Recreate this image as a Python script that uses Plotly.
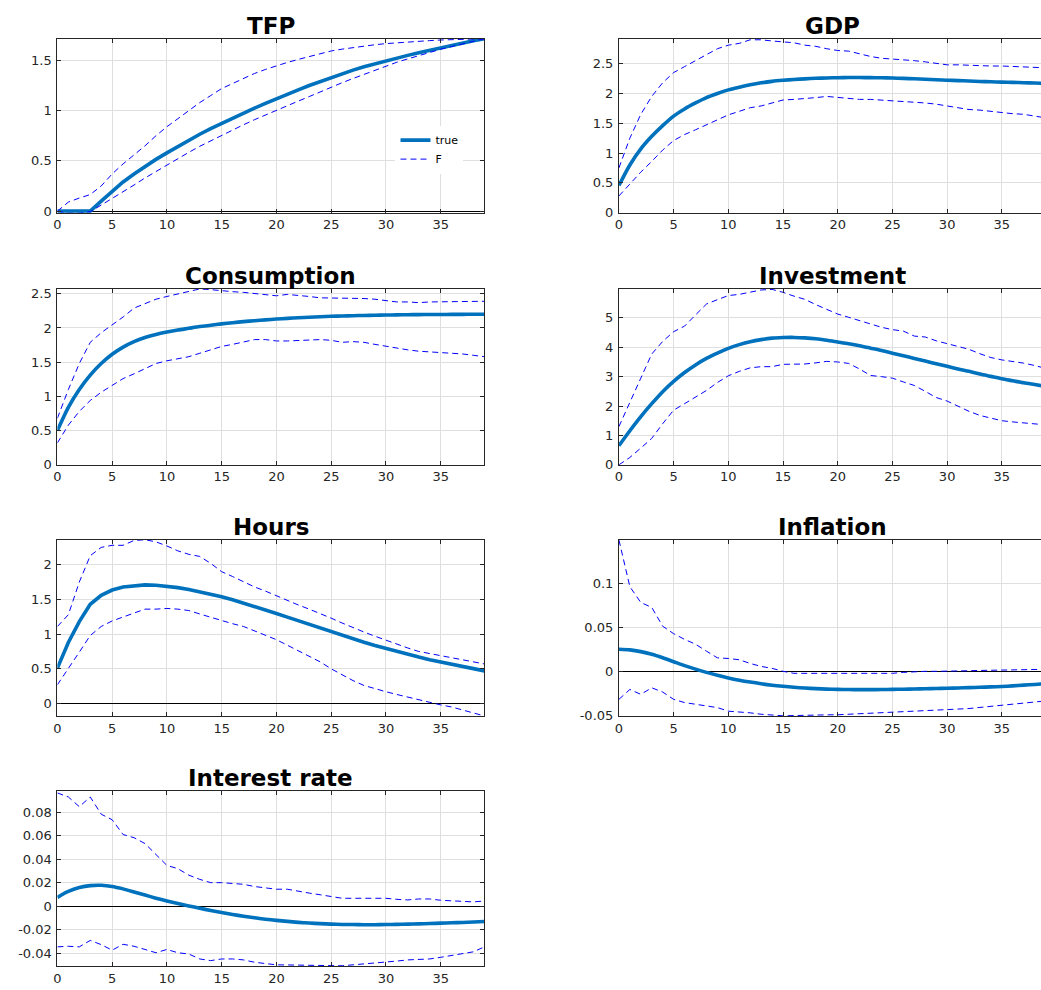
import plotly.graph_objects as go

# ---------------- data ----------------
periods = list(range(40))
x_tick_vals = [0, 5, 10, 15, 20, 25, 30, 35]
x_tick_text = ["0", "5", "10", "15", "20", "25", "30", "35"]

tfp_true = [0, 0, 0, 0, 0.10, 0.20, 0.29, 0.37, 0.445, 0.515, 0.58, 0.645, 0.705, 0.765, 0.82,
            0.873, 0.925, 0.975, 1.025, 1.072, 1.119, 1.163, 1.207, 1.25, 1.29, 1.332, 1.368,
            1.403, 1.437, 1.467, 1.496, 1.523, 1.55, 1.577, 1.602, 1.627, 1.65, 1.673, 1.695, 1.716]
tfp_hi = [0, 0.09, 0.13, 0.165, 0.25, 0.37, 0.47, 0.56, 0.65, 0.75, 0.84, 0.92, 1.0, 1.08, 1.15,
          1.22, 1.27, 1.32, 1.37, 1.41, 1.447, 1.48, 1.51, 1.54, 1.57, 1.594, 1.612, 1.628, 1.643,
          1.656, 1.667, 1.676, 1.684, 1.691, 1.697, 1.703, 1.707, 1.711, 1.714, 1.716]
tfp_lo = [0, -0.02, -0.02, -0.005, 0.06, 0.125, 0.19, 0.26, 0.33, 0.395, 0.46, 0.525, 0.585, 0.645,
          0.7, 0.758, 0.81, 0.86, 0.91, 0.958, 1.004, 1.05, 1.095, 1.14, 1.188, 1.234, 1.278, 1.32,
          1.362, 1.405, 1.447, 1.482, 1.515, 1.548, 1.58, 1.611, 1.638, 1.665, 1.69, 1.716]

gdp_true = [0.455, 0.80, 1.07, 1.28, 1.46, 1.62, 1.74, 1.84, 1.93, 2.0, 2.06, 2.105, 2.145, 2.178,
            2.203, 2.22, 2.234, 2.245, 2.254, 2.26, 2.264, 2.267, 2.267, 2.265, 2.263, 2.258, 2.252,
            2.246, 2.238, 2.23, 2.222, 2.215, 2.208, 2.2, 2.195, 2.19, 2.185, 2.18, 2.175, 2.17]
gdp_hi = [0.75, 1.25, 1.65, 1.95, 2.18, 2.35, 2.45, 2.55, 2.65, 2.75, 2.81, 2.84, 2.9, 2.9, 2.88,
          2.87, 2.85, 2.81, 2.79, 2.75, 2.72, 2.71, 2.66, 2.62, 2.59, 2.58, 2.56, 2.55, 2.53, 2.5,
          2.48, 2.48, 2.47, 2.47, 2.46, 2.46, 2.45, 2.44, 2.43, 2.43]
gdp_lo = [0.28, 0.48, 0.68, 0.86, 1.05, 1.21, 1.31, 1.39, 1.47, 1.56, 1.64, 1.7, 1.76, 1.79, 1.84,
          1.89, 1.9, 1.91, 1.93, 1.95, 1.93, 1.91, 1.9, 1.9, 1.89, 1.88, 1.87, 1.86, 1.84, 1.82,
          1.79, 1.75, 1.73, 1.72, 1.7, 1.67, 1.66, 1.65, 1.62, 1.59]

cons_true = [0.5, 0.84, 1.1, 1.31, 1.48, 1.615, 1.72, 1.80, 1.86, 1.905, 1.94, 1.97, 1.995, 2.02,
             2.04, 2.06, 2.077, 2.092, 2.106, 2.118, 2.13, 2.14, 2.149, 2.157, 2.164, 2.17, 2.175,
             2.179, 2.183, 2.186, 2.189, 2.191, 2.193, 2.195, 2.196, 2.197, 2.198, 2.199, 2.2, 2.2]
cons_hi = [0.68, 1.1, 1.48, 1.79, 1.93, 2.04, 2.16, 2.29, 2.36, 2.42, 2.46, 2.5, 2.54, 2.57, 2.56,
           2.54, 2.53, 2.52, 2.5, 2.48, 2.47, 2.49, 2.48, 2.46, 2.44, 2.44, 2.44, 2.44, 2.43, 2.42,
           2.4, 2.38, 2.38, 2.37, 2.38, 2.38, 2.38, 2.38, 2.39, 2.39]
cons_lo = [0.32, 0.58, 0.78, 0.94, 1.06, 1.16, 1.26, 1.33, 1.4, 1.48, 1.52, 1.55, 1.58, 1.63, 1.68,
           1.73, 1.76, 1.79, 1.83, 1.83, 1.81, 1.81, 1.82, 1.82, 1.83, 1.82, 1.79, 1.8, 1.79, 1.76,
           1.73, 1.71, 1.68, 1.66, 1.65, 1.64, 1.64, 1.62, 1.6, 1.58]

inv_true = [0.65, 1.16, 1.64, 2.08, 2.49, 2.84, 3.14, 3.40, 3.62, 3.80, 3.96, 4.09, 4.19, 4.26,
            4.31, 4.33, 4.335, 4.32, 4.29, 4.24, 4.18, 4.12, 4.05, 3.97, 3.89, 3.8, 3.71, 3.62, 3.53,
            3.44, 3.35, 3.26, 3.18, 3.09, 3.01, 2.93, 2.86, 2.79, 2.73, 2.67]
inv_hi = [1.3, 2.1, 2.95, 3.77, 4.2, 4.53, 4.72, 5.1, 5.47, 5.62, 5.76, 5.8, 5.88, 5.95, 5.97, 5.87,
          5.74, 5.63, 5.45, 5.3, 5.13, 5.02, 4.9, 4.8, 4.68, 4.6, 4.55, 4.38, 4.35, 4.22, 4.13, 4.03,
          3.93, 3.78, 3.65, 3.57, 3.52, 3.46, 3.38, 3.28]
inv_lo = [0.0, 0.25, 0.57, 0.9, 1.4, 1.86, 2.08, 2.3, 2.53, 2.8, 3.03, 3.18, 3.3, 3.34, 3.34, 3.42,
          3.42, 3.43, 3.47, 3.52, 3.5, 3.45, 3.26, 3.04, 3.0, 2.95, 2.82, 2.7, 2.5, 2.29, 2.17, 2.0,
          1.82, 1.68, 1.58, 1.5, 1.46, 1.43, 1.4, 1.36]

hours_true = [0.51, 0.88, 1.18, 1.43, 1.56, 1.635, 1.68, 1.70, 1.71, 1.705, 1.69, 1.67, 1.643,
              1.612, 1.578, 1.54, 1.495, 1.448, 1.4, 1.35, 1.298, 1.245, 1.192, 1.139, 1.086,
              1.034, 0.983, 0.933, 0.884, 0.837, 0.792, 0.749, 0.708, 0.669, 0.632, 0.597, 0.563,
              0.531, 0.5, 0.47]
hours_hi = [1.11, 1.28, 1.75, 2.13, 2.25, 2.28, 2.28, 2.35, 2.36, 2.33, 2.27, 2.2, 2.15, 2.12, 2.02,
            1.9, 1.83, 1.75, 1.68, 1.62, 1.55, 1.48, 1.42, 1.36, 1.3, 1.23, 1.16, 1.09, 1.03, 0.97,
            0.91, 0.85, 0.8, 0.75, 0.72, 0.7, 0.67, 0.64, 0.6, 0.57]
hours_lo = [0.27, 0.5, 0.74, 0.98, 1.11, 1.19, 1.25, 1.3, 1.36, 1.36, 1.37, 1.36, 1.34, 1.29, 1.24,
            1.19, 1.15, 1.11, 1.05, 0.99, 0.92, 0.84, 0.76, 0.68, 0.6, 0.5, 0.41, 0.33, 0.26, 0.21,
            0.17, 0.13, 0.09, 0.06, 0.02, -0.02, -0.05, -0.09, -0.13, -0.18]

infl_true = [0.0252, 0.0245, 0.0225, 0.0195, 0.0155, 0.011, 0.0065, 0.0025, -0.0012, -0.0045,
             -0.0075, -0.0101, -0.0123, -0.0142, -0.0158, -0.0171, -0.0182, -0.0191, -0.0198,
             -0.0203, -0.0206, -0.0208, -0.0209, -0.0209, -0.0208, -0.0206, -0.0204, -0.0202,
             -0.0199, -0.0196, -0.0193, -0.019, -0.0186, -0.0182, -0.0178, -0.0173, -0.0166,
             -0.0158, -0.015, -0.0141]
infl_hi = [0.150, 0.0966, 0.0786, 0.073, 0.0515, 0.043, 0.0365, 0.031, 0.023, 0.0154, 0.0147,
           0.0132, 0.009, 0.0056, 0.0034, 0.0, -0.0023, -0.0023, -0.0023, -0.0023, -0.0023,
           -0.0023, -0.0023, -0.0023, -0.0023, -0.0023, -0.0012, -0.0004, 0.0, 0.0, 0.0, 0.0003,
           0.0007, 0.001, 0.0012, 0.0014, 0.0015, 0.0017, 0.002, 0.0023]
infl_lo = [-0.032, -0.0207, -0.0263, -0.0188, -0.0237, -0.032, -0.0357, -0.0376, -0.0395, -0.0414,
           -0.0455, -0.0462, -0.0474, -0.049, -0.05, -0.0508, -0.0505, -0.05, -0.0498, -0.0497,
           -0.0496, -0.049, -0.048, -0.0474, -0.0468, -0.0462, -0.0457, -0.0452, -0.0447, -0.0444,
           -0.044, -0.0432, -0.0425, -0.0412, -0.04, -0.0387, -0.0378, -0.0368, -0.0353, -0.0338]

rate_true = [0.0075, 0.0125, 0.0158, 0.0175, 0.0178, 0.0168, 0.0147, 0.0121, 0.0094, 0.0068,
             0.0044, 0.0022, 0.0002, -0.0018, -0.0037, -0.0055, -0.0071, -0.0086, -0.0099, -0.0111,
             -0.0121, -0.013, -0.0138, -0.0144, -0.0149, -0.0153, -0.0156, -0.0157, -0.0158,
             -0.0158, -0.0157, -0.0155, -0.0153, -0.0151, -0.0148, -0.0145, -0.0142, -0.0139,
             -0.0135, -0.0131]
rate_hi = [0.0964, 0.093, 0.0847, 0.093, 0.0783, 0.0736, 0.061, 0.0583, 0.0533, 0.0444, 0.0347,
           0.0319, 0.0264, 0.0228, 0.02, 0.02, 0.0194, 0.0186, 0.0167, 0.0153, 0.0144, 0.0144,
           0.0125, 0.0111, 0.0097, 0.0083, 0.0067, 0.0067, 0.0069, 0.0069, 0.0067, 0.0058, 0.0053,
           0.0061, 0.0061, 0.005, 0.0044, 0.0036, 0.0036, 0.0044]
rate_lo = [-0.0347, -0.0342, -0.0347, -0.0292, -0.0328, -0.0375, -0.0325, -0.0342, -0.0369,
           -0.0397, -0.0369, -0.0397, -0.0408, -0.045, -0.0464, -0.045, -0.045, -0.0458, -0.0478,
           -0.0492, -0.05, -0.0501, -0.0503, -0.0505, -0.0506, -0.0511, -0.0508, -0.05, -0.0493,
           -0.0486, -0.0478, -0.0468, -0.0458, -0.0454, -0.045, -0.0436, -0.0422, -0.0405,
           -0.0389, -0.0347]

titles = ["TFP", "GDP", "Consumption", "Investment", "Hours", "Inflation", "Interest rate"]
series = [
    (tfp_true, tfp_hi, tfp_lo),
    (gdp_true, gdp_hi, gdp_lo),
    (cons_true, cons_hi, cons_lo),
    (inv_true, inv_hi, inv_lo),
    (hours_true, hours_hi, hours_lo),
    (infl_true, infl_hi, infl_lo),
    (rate_true, rate_hi, rate_lo),
]
y_tick_vals = [
    [0, 0.5, 1, 1.5],
    [0, 0.5, 1, 1.5, 2, 2.5],
    [0, 0.5, 1, 1.5, 2, 2.5],
    [0, 1, 2, 3, 4, 5],
    [0, 0.5, 1, 1.5, 2],
    [-0.05, 0, 0.05, 0.1],
    [-0.04, -0.02, 0, 0.02, 0.04, 0.06, 0.08],
]
y_tick_text = [
    ["0", "0.5", "1", "1.5"],
    ["0", "0.5", "1", "1.5", "2", "2.5"],
    ["0", "0.5", "1", "1.5", "2", "2.5"],
    ["0", "1", "2", "3", "4", "5"],
    ["0", "0.5", "1", "1.5", "2"],
    ["-0.05", "0", "0.05", "0.1"],
    ["-0.04", "-0.02", "0", "0.02", "0.04", "0.06", "0.08"],
]
legend_names = ["true", "F"]

# ---------------- layout geometry ----------------
W, H = 1041, 990
y_ranges = [[-0.015, 1.717], [0, 2.92], [0, 2.568], [0, 5.98], [-0.18, 2.357],
            [-0.051, 0.150], [-0.0514, 0.0982]]
row_px = [(36, 212), (289.3, 467), (543, 721), (796.7, 974.3)]
left_px = (53.6, 482.3)
right_px = (617.3, 1041)
right_full_end = 1045.6
smooth_true = [False, True, True, True, False, True, True]

AX = "#262626"
GRID = "#dfdfdf"
TRUE_C = "#0072BD"
BAND_C = "#0000FF"
FONT = "DejaVu Sans"

fig = go.Figure()

for i, (title, (tr, hi, lo)) in enumerate(zip(titles, series)):
    row, col = divmod(i, 2)
    n = i + 1
    xa = "x" if n == 1 else f"x{n}"
    ya = "y" if n == 1 else f"y{n}"
    true_line = dict(color=TRUE_C, width=3.6)
    if smooth_true[i]:
        true_line.update(shape="spline", smoothing=0.8)
    fig.add_trace(go.Scatter(x=periods, y=tr, mode="lines", name=legend_names[0],
                             line=true_line, xaxis=xa, yaxis=ya,
                             showlegend=(i == 0), legendgroup="true"))
    fig.add_trace(go.Scatter(x=periods, y=hi, mode="lines", name=legend_names[1],
                             line=dict(color=BAND_C, width=1, dash="6px,4px"), xaxis=xa, yaxis=ya,
                             showlegend=(i == 0), legendgroup="F"))
    fig.add_trace(go.Scatter(x=periods, y=lo, mode="lines", name=legend_names[1],
                             line=dict(color=BAND_C, width=1, dash="6px,4px"), xaxis=xa, yaxis=ya,
                             showlegend=False, legendgroup="F"))

    top, bot = row_px[row]
    xd = left_px if col == 0 else right_px
    x_end = 39 if col == 0 else 39 * (right_px[1] - right_px[0]) / (right_full_end - right_px[0])
    xkey = "xaxis" if n == 1 else f"xaxis{n}"
    ykey = "yaxis" if n == 1 else f"yaxis{n}"
    fig.layout[xkey] = dict(
        domain=[xd[0] / W, xd[1] / W], anchor=ya, range=[0, x_end],
        tickvals=x_tick_vals, ticktext=x_tick_text,
        showline=True, linecolor=AX, linewidth=1, mirror="ticks",
        ticks="inside", ticklen=4, tickcolor=AX,
        showgrid=True, gridcolor=GRID, gridwidth=1, zeroline=False,
        tickfont=dict(family=FONT, size=13, color=AX),
    )
    fig.layout[ykey] = dict(
        domain=[1 - bot / H, 1 - top / H], anchor=xa, range=y_ranges[i],
        tickvals=y_tick_vals[i], ticktext=y_tick_text[i],
        showline=True, linecolor=AX, linewidth=1, mirror=("ticks" if col == 0 else False),
        ticks="inside", ticklen=4, tickcolor=AX,
        showgrid=True, gridcolor=GRID, gridwidth=1,
        zeroline=True, zerolinecolor="#000000", zerolinewidth=1,
        tickfont=dict(family=FONT, size=13, color=AX),
        ticklabelstandoff=2,
    )
    cx = (xd[0] + (xd[1] if col == 0 else right_full_end)) / 2
    fig.add_annotation(text=f"<b>{title}</b>", xref="paper", yref="paper",
                       x=cx / W, y=1 - (top - 13) / H, xanchor="center", yanchor="middle",
                       showarrow=False, font=dict(family=FONT, size=23, color="#000000"))

fig.update_layout(
    width=W, height=H, margin=dict(l=0, r=0, t=0, b=0),
    paper_bgcolor="white", plot_bgcolor="white",
    showlegend=True,
    legend=dict(x=393 / W, y=1 - 124 / H, xanchor="left", yanchor="top",
                bgcolor="rgba(255,255,255,1)", borderwidth=0,
                font=dict(family=FONT, size=11, color="#000000"),
                tracegroupgap=0, itemwidth=30),
)

fig.write_html("out.html")
